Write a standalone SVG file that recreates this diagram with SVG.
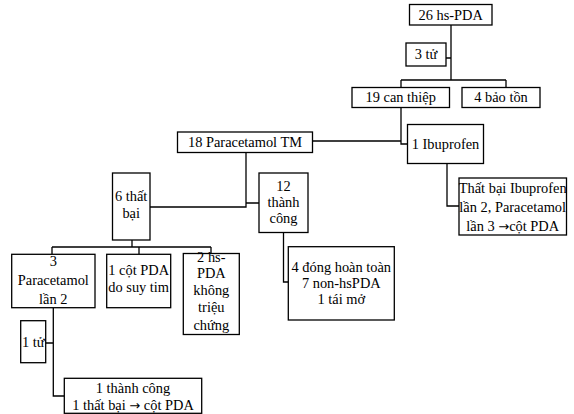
<svg xmlns="http://www.w3.org/2000/svg" width="574" height="414" viewBox="0 0 574 414">
<style>
.b{fill:#fff;stroke:#000;stroke-width:1.3}
.c{fill:none;stroke:#000;stroke-width:1.3}
text{font-family:"Liberation Serif","Times New Roman",serif;font-size:14.4px;fill:#000;text-anchor:middle}
.ar{font-family:"DejaVu Sans",sans-serif;font-size:13px}
</style>
<rect x="0" y="0" width="574" height="414" fill="#fff"/>
<g id="connectors">
<path class="c" d="M451,25 V80 M446,58 H451 M401,80 H506 M401,80 V87.5 M506,80 V87.5"/>
<path class="c" d="M401,107.5 V144 H407.5 M312.5,141 H401"/>
<path class="c" d="M447,163.5 V206 H459"/>
<path class="c" d="M246,152.5 V207 H150 M246,203 H259"/>
<path class="c" d="M283.5,232.5 V282 H288.3"/>
<path class="c" d="M132,240 V247 M52,247 H211 M52,247 V254.3 M139,247 V254.3 M211,247 V253.5"/>
<path class="c" d="M53.3,307.7 V396 H64.3 M45.7,343 H53.3"/>
</g>
<g id="n26"><rect class="b" x="409.5" y="4.5" width="82.5" height="20.5"/><text x="450.7" y="19.5">26 hs-PDA</text></g>
<g id="n3tu"><rect class="b" x="406" y="43" width="40" height="23"/><text x="426" y="59">3 tử</text></g>
<g id="n19"><rect class="b" x="352" y="87.5" width="97.5" height="20"/><text x="400.7" y="102">19 can thiệp</text></g>
<g id="n4bt"><rect class="b" x="462" y="87.5" width="78" height="20"/><text x="501" y="102">4 bảo tồn</text></g>
<g id="n18"><rect class="b" x="177.5" y="132" width="135" height="20.5"/><text x="245" y="147">18 Paracetamol TM</text></g>
<g id="nibu"><rect class="b" x="407.5" y="124.5" width="76" height="39"/><text x="445.5" y="148.5">1 Ibuprofen</text></g>
<g id="ntbibu"><rect class="b" x="459" y="178" width="107.5" height="57"/><text x="512.7" y="193">Thất bại Ibuprofen</text><text x="512.7" y="212">lần 2, Paracetamol</text><text x="512.7" y="231">lần 3 <tspan class="ar">→</tspan>cột PDA</text></g>
<g id="n6tb"><rect class="b" x="112.5" y="173" width="37.5" height="67"/><text x="131.2" y="201">6 thất</text><text x="131.2" y="217.5">bại</text></g>
<g id="n12tc"><rect class="b" x="259" y="173" width="49" height="59.5"/><text x="283.5" y="191">12</text><text x="283.5" y="207">thành</text><text x="283.5" y="223">công</text></g>
<g id="n3para"><rect class="b" x="11.7" y="254.3" width="83.3" height="53.4"/><text x="53.3" y="266">3</text><text x="53.3" y="285">Paracetamol</text><text x="53.3" y="304">lần 2</text></g>
<g id="n1cot"><rect class="b" x="106.7" y="254.3" width="64" height="53.4"/><text x="138.7" y="275">1 cột PDA</text><text x="138.7" y="292">do suy tim</text></g>
<g id="n2hs"><rect class="b" x="183.3" y="253.5" width="56" height="81"/><text x="211.3" y="262">2 hs-</text><text x="211.3" y="278">PDA</text><text x="211.3" y="295">không</text><text x="211.3" y="312">triệu</text><text x="211.3" y="330">chứng</text></g>
<g id="n4dong"><rect class="b" x="288.3" y="246.7" width="106" height="73.3"/><text x="341.3" y="272">4 đóng hoàn toàn</text><text x="341.3" y="288">7 non-hsPDA</text><text x="341.3" y="304">1 tái mở</text></g>
<g id="n1tu"><rect class="b" x="20.7" y="320.7" width="25" height="42"/><text x="33.2" y="347">1 tử</text></g>
<g id="n1tc"><rect class="b" x="64.3" y="378.3" width="137.4" height="35"/><text x="133" y="393">1 thành công</text><text x="133" y="410">1 thất bại <tspan class="ar">→</tspan> cột PDA</text></g>
</svg>
